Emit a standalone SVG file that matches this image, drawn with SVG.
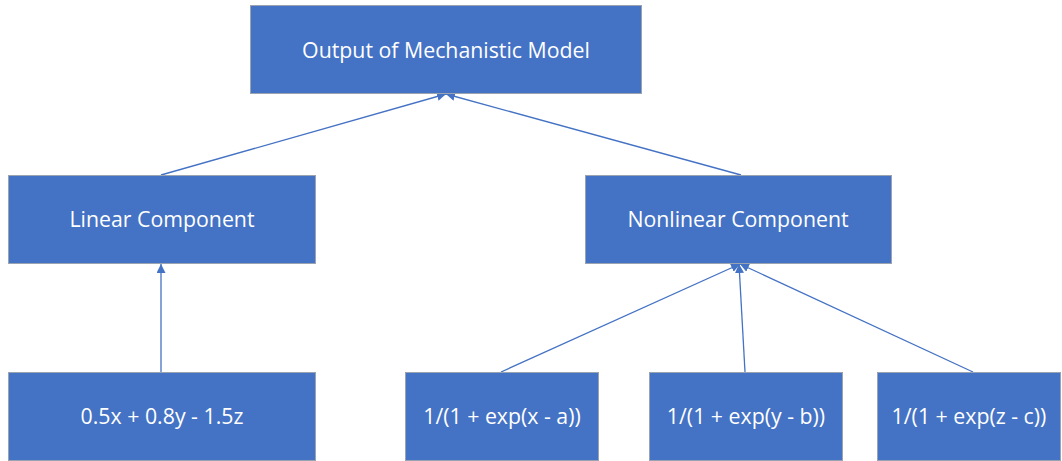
<svg xmlns="http://www.w3.org/2000/svg" width="1062" height="461" viewBox="0 0 1062 461">
<style>
.box{fill:#4472C4;stroke:#9aa3b0;stroke-width:1}
.lbl{fill:#fff;font-family:"Open Sans","Liberation Sans",sans-serif;font-size:21.3px;text-anchor:middle;dominant-baseline:central}
.con{stroke:#4472C4;stroke-width:1.3;fill:none;marker-end:url(#arr)}
</style>
<defs>
<marker id="arr" viewBox="0 0 10 10" refX="10" refY="5" markerWidth="9" markerHeight="9" orient="auto" markerUnits="userSpaceOnUse">
<path d="M0,0 L10,5 L0,10 z" fill="#4472C4"/>
</marker>
</defs>
<rect width="1062" height="461" fill="#fff"/>
<g id="connectors">
<line class="con" x1="161" y1="175" x2="446" y2="94"/>
<line class="con" x1="741" y1="175" x2="446" y2="94"/>
<line class="con" x1="161" y1="372" x2="161" y2="264"/>
<line class="con" x1="501" y1="372" x2="740" y2="264"/>
<line class="con" x1="745" y1="372" x2="739" y2="264"/>
<line class="con" x1="973" y1="372" x2="740" y2="264"/>
</g>
<g id="n-output"><rect class="box" x="250.5" y="5.5" width="391" height="88"/><text class="lbl" x="446" y="49">Output of Mechanistic Model</text></g>
<g id="n-linear"><rect class="box" x="8.5" y="175.5" width="307" height="88"/><text class="lbl" x="162" y="218">Linear Component</text></g>
<g id="n-nonlinear"><rect class="box" x="585.5" y="175.5" width="306" height="88"/><text class="lbl" x="738" y="218">Nonlinear Component</text></g>
<g id="n-lin-expr"><rect class="box" x="8.5" y="372.5" width="307" height="88"/><text class="lbl" x="162" y="415">0.5x + 0.8y - 1.5z</text></g>
<g id="n-sig-x"><rect class="box" x="405.5" y="372.5" width="193" height="88"/><text class="lbl" x="502" y="415">1/(1 + exp(x - a))</text></g>
<g id="n-sig-y"><rect class="box" x="649.5" y="372.5" width="193" height="88"/><text class="lbl" x="746" y="415">1/(1 + exp(y - b))</text></g>
<g id="n-sig-z"><rect class="box" x="877.5" y="372.5" width="183" height="88"/><text class="lbl" x="969" y="415">1/(1 + exp(z - c))</text></g>
</svg>
